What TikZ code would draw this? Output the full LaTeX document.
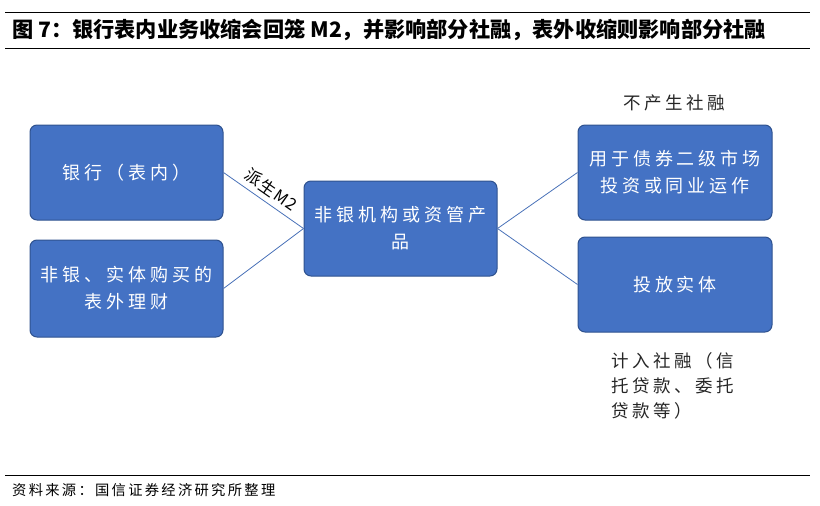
\documentclass[tikz,border=0pt]{standalone}
\usepackage{fontspec}
\newfontfamily\cjk{Noto Sans CJK SC}
\newfontfamily\cjkbox{Noto Sans CJK SC}[LetterSpace=22]
\newfontfamily\cjknote{Noto Sans CJK SC}[LetterSpace=20]
\newfontfamily\cjksrc{Noto Sans CJK SC}[LetterSpace=16]
\newfontfamily\cjklab{Noto Sans CJK SC}[LetterSpace=8]
\definecolor{boxfill}{HTML}{4472C4}
\definecolor{boxedge}{HTML}{2F528F}
\definecolor{linkc}{HTML}{4A72B8}
\begin{document}
\begin{tikzpicture}[x=1pt,y=-1pt,
  bluebox/.style={draw=boxedge,line width=1pt,fill=boxfill,rounded corners=7pt,
    minimum width=193pt,minimum height=95pt,inner sep=0pt,
    text=white,align=center,font=\cjkbox\fontsize{18}{27}\selectfont},
  link/.style={draw=linkc,line width=0.8pt},
  note/.style={align=left,font=\cjknote\fontsize{17.5}{25}\selectfont,text=black!85},
  rule/.style={line width=1pt,black}]
\useasboundingbox (0,0) rectangle (820,506);
% header
\draw[rule] (5,12) -- (810,12);
\draw[rule] (5,48) -- (810,48);
\node[anchor=west,inner sep=0pt,font=\cjk\bfseries\fontsize{21.2}{24}\selectfont] (title) at (12,30)
  {图 7：银行表内业务收缩会回笼 M2，并影响部分社融，表外收缩则影响部分社融};
% boxes
\node[bluebox] (b1) at (126.5,172.5) {银行（表内）};
\node[bluebox,minimum height=97pt] (b2) at (126.5,288.5) {非银、实体购买的\\表外理财};
\node[bluebox] (c) at (400.5,228.5) {非银机构或资管产\\品};
\node[bluebox,minimum width=194pt] (r1) at (675,172.5) {用于债券二级市场\\投资或同业运作};
\node[bluebox,minimum width=194pt] (r2) at (675,284.5) {投放实体};
% connectors
\draw[link] (b1.east) -- node[midway,sloped,above=5pt,inner sep=0pt,text=black,font=\cjklab\fontsize{16.5}{18}\selectfont] (lab) {派生M2} (c.west);
\draw[link] (b2.east) -- (c.west);
\draw[link] (c.east) -- (r1.west);
\draw[link] (c.east) -- (r2.west);
% notes
\node[note] (n1) at (674,103) {不产生社融};
\node[note,anchor=north west] (n2) at (608,349) {计入社融（信\\托贷款、委托\\贷款等）};
% footer
\draw[rule] (5,475) -- (810,475);
\node[anchor=west,inner sep=0pt,font=\cjksrc\fontsize{14.3}{16}\selectfont] (src) at (12,490) {资料来源：国信证券经济研究所整理};
\end{tikzpicture}
\end{document}
